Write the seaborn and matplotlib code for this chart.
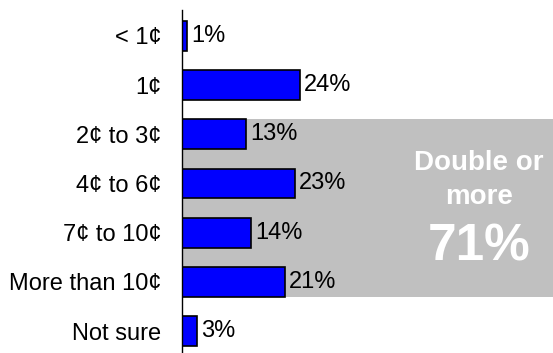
import matplotlib
matplotlib.use("Agg")
import matplotlib.pyplot as plt
import seaborn as sns
import pandas as pd

categories = ["< 1¢", "1¢", "2¢ to 3¢", "4¢ to 6¢", "7¢ to 10¢", "More than 10¢", "Not sure"]
values = [1, 24, 13, 23, 14, 21, 3]
value_labels = ["1%", "24%", "13%", "23%", "14%", "21%", "3%"]
callout_lines = ["Double or", "more"]
callout_total = "71%"

sns.set_style("white")
plt.rcParams["font.family"] = ["Liberation Sans", "DejaVu Sans"]
plt.rcParams["text.color"] = "black"
plt.rcParams["ytick.color"] = "black"

df = pd.DataFrame({"category": categories, "value": values})

fig = plt.figure(figsize=(5.53, 3.53), dpi=100)
ax = fig.add_axes([182 / 553, 0.0, 1 - 182 / 553, 1 - 10 / 353])

bar_w = 0.61
# shaded band behind the "double or more" group
ax.axhspan(2 - bar_w / 2, 5 + bar_w / 2, color="#C0C0C0", zorder=0, lw=0)

sns.barplot(data=df, x="value", y="category", order=categories, orient="h",
            color="#0000FF", saturation=1, width=bar_w, edgecolor="black",
            linewidth=1.2, ax=ax, zorder=2)

for i, (v, lab) in enumerate(zip(values, value_labels)):
    ax.text(v + 0.9, i, lab, va="center", ha="left", fontsize=17, color="black", zorder=3)

ax.set_xlim(0, (553 - 182) / 4.9)
ax.set_ylim(6 + 22 / 49.2, -26 / 49.2)
ax.set_xlabel("")
ax.set_ylabel("")
ax.set_xticks([])
ax.tick_params(axis="y", length=0, pad=15, labelsize=17, labelcolor="black")
for side in ["top", "right", "bottom"]:
    ax.spines[side].set_visible(False)
ax.spines["left"].set_color("black")
ax.spines["left"].set_linewidth(1.0)

# callout text in figure pixel coordinates
cx = 479 / 553
fig.text(cx, 1 - 163 / 353, callout_lines[0], ha="center", va="center",
         fontsize=20, fontweight="bold", color="white")
fig.text(cx, 1 - 197 / 353, callout_lines[1], ha="center", va="center",
         fontsize=20, fontweight="bold", color="white")
fig.text(cx, 1 - 247 / 353, callout_total, ha="center", va="center",
         fontsize=37, fontweight="bold", color="white")

fig.savefig("out.png", dpi=100)
